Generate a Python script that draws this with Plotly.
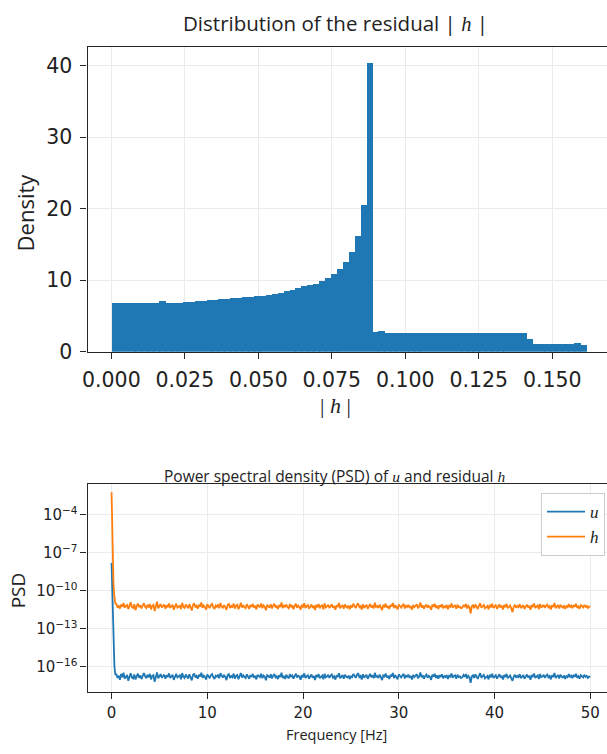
import numpy as np
import plotly.graph_objects as go

# ---------------- Data: histogram of |h| (density) ----------------
hist_bin_count = 80
hist_max = 0.1613
hist_density = [
    6.88, 6.90, 6.89, 6.87, 6.90, 6.88, 6.91, 6.89,
    7.10, 6.85, 6.84, 6.86, 7.00, 7.05, 7.12, 7.20, 7.27, 7.33, 7.40, 7.47,
    7.53, 7.60, 7.67, 7.73, 7.80, 7.93, 8.07, 8.20, 8.35, 8.50, 8.70, 8.95,
    9.20, 9.40, 9.60, 9.90, 10.40, 11.00, 11.70, 12.65, 13.97, 16.20, 20.60, 40.45,
    2.78, 2.92,
    2.70, 2.69, 2.71, 2.70, 2.68, 2.70, 2.71, 2.69, 2.70, 2.70, 2.69, 2.71,
    2.70, 2.68, 2.70, 2.69, 2.71, 2.70, 2.70, 2.69, 2.70, 2.71, 2.69, 2.70,
    1.92,
    1.10, 1.09, 1.11, 1.10, 1.10, 1.09, 1.11,
    1.25, 1.05,
]
hist_xticks = [0.0, 0.025, 0.05, 0.075, 0.1, 0.125, 0.15]
hist_xtick_labels = ["0.000", "0.025", "0.050", "0.075", "0.100", "0.125", "0.150"]
hist_yticks = [0, 10, 20, 30, 40]

# ---------------- Data: PSD (log10 values) ----------------
psd_freq_head = [0.0, 0.1, 0.2, 0.3, 0.4]
psd_freq_body_start = 0.5
psd_freq_body_stop = 50.0
psd_freq_body_step = 0.125

psd_h_log10_head = [-2.20, -6.00, -9.40, -10.50, -11.00]
psd_h_log10_body = [
    -11.02, -11.31, -11.15, -11.40, -11.08, -11.26, -10.95, -11.33, -11.19, -11.12,
    -11.44, -11.17, -10.90, -11.29, -11.36, -11.05, -11.52, -11.21, -11.00, -11.28,
    -11.14, -11.39, -11.23, -10.97, -11.25, -11.35, -11.09, -11.31, -11.04, -11.46,
    -11.18, -11.11, -11.60, -11.24, -10.86, -11.37, -11.16, -11.03, -11.32, -11.22,
    -11.07, -11.41, -11.13, -11.29, -10.99, -11.34, -11.20, -11.10, -11.49, -11.17,
    -11.01, -11.32, -11.26, -11.13, -11.44, -10.94, -11.27, -11.35, -11.08, -11.21,
    -11.38, -11.05, -11.24, -11.55, -11.12, -10.98, -11.30, -11.18, -11.40, -11.09,
    -11.25, -10.92, -11.34, -11.15, -11.28, -11.47, -11.06, -11.22, -11.36, -11.11,
    -11.02, -11.30, -11.42, -11.16, -11.27, -11.07, -11.38, -10.96, -11.24, -11.33,
    -11.13, -11.28, -11.50, -11.10, -11.04, -11.35, -11.19, -11.31, -11.00, -11.40,
    -11.16, -11.09, -11.45, -11.23, -10.93, -11.32, -11.12, -11.29, -11.37, -11.05,
    -11.22, -11.41, -11.11, -11.27, -11.03, -11.34, -11.18, -11.46, -11.08, -11.25,
    -11.30, -10.99, -11.37, -11.14, -11.26, -11.53, -11.10, -11.21, -11.33, -11.06,
    -11.39, -11.15, -11.02, -11.31, -11.20, -11.43, -11.11, -11.28, -10.91, -11.36,
    -11.17, -11.24, -11.08, -11.29, -11.38, -11.04, -11.25, -11.13, -11.44, -11.19,
    -11.01, -11.33, -11.16, -11.27, -11.48, -11.09, -11.31, -10.97, -11.36, -11.20,
    -11.12, -11.40, -11.24, -11.07, -11.34, -11.17, -11.51, -11.10, -11.29, -11.03,
    -11.38, -11.19, -11.14, -11.45, -11.00, -11.30, -11.22, -11.09, -11.35, -11.16,
    -11.05, -11.32, -11.20, -11.49, -11.13, -11.28, -10.95, -11.37, -11.18, -11.11,
    -11.41, -11.07, -11.27, -11.33, -11.15, -11.44, -11.19, -11.30, -11.02, -11.26,
    -11.36, -11.12, -10.98, -11.29, -11.21, -11.47, -11.06, -11.34, -11.17, -11.10,
    -11.42, -11.23, -11.04, -11.31, -11.14, -11.38, -10.94, -11.27, -11.20, -11.35,
    -11.08, -11.30, -11.52, -11.16, -11.25, -11.01, -11.33, -11.19, -11.43, -11.11,
    -11.24, -10.96, -11.36, -11.13, -11.28, -11.45, -11.07, -11.22, -11.32, -11.15,
    -11.03, -11.39, -11.18, -11.26, -11.09, -11.34, -11.21, -11.48, -11.12, -11.29,
    -11.17, -11.05, -11.37, -11.23, -10.92, -11.31, -11.14, -11.40, -11.20, -11.08,
    -11.33, -11.19, -11.27, -11.50, -11.10, -11.25, -11.02, -11.35, -11.16, -11.42,
    -11.13, -11.28, -11.06, -11.38, -11.22, -11.30, -11.11, -11.45, -11.18, -11.26,
    -11.00, -11.34, -11.20, -11.15, -11.41, -11.09, -11.29, -11.24, -11.37, -11.32,
    -11.12, -11.27, -11.04, -11.39, -11.18, -11.31, -11.78, -11.22, -11.14, -11.36,
    -11.07, -11.29, -11.43, -11.16, -10.97, -11.33, -11.21, -11.11, -11.38, -11.25,
    -11.19, -11.46, -11.09, -11.30, -11.02, -11.35, -11.23, -11.14, -11.41, -11.26,
    -11.06, -11.32, -11.18, -11.47, -11.12, -11.28, -11.03, -11.37, -11.20, -11.15,
    -11.40, -11.68, -11.24, -11.10, -11.33, -11.19, -11.29, -11.05, -11.36, -11.22,
    -11.13, -11.42, -11.26, -11.08, -11.31, -11.17, -11.49, -11.11, -11.27, -11.00,
    -11.35, -11.21, -11.15, -11.44, -11.04, -11.29, -11.23, -11.10, -11.34, -11.18,
    -11.08, -11.30, -11.20, -11.46, -11.14, -11.27, -10.96, -11.36, -11.19, -11.12,
    -11.39, -11.09, -11.25, -11.32, -11.16, -11.43, -11.21, -11.28, -11.05, -11.30,
    -11.17, -11.37, -11.11, -11.26, -11.02, -11.34, -11.22, -11.41, -11.13, -11.24,
    -11.31, -11.10, -11.27, -11.19, -11.35, -11.23, -11.26,
]

psd_u_log10_head = [-7.80, -11.50, -14.50, -16.00, -16.60]
psd_u_log10_body = [
    -16.60, -16.88, -16.70, -17.03, -16.56, -16.82, -16.47, -16.94, -16.73, -16.64,
    -17.10, -16.69, -16.51, -16.85, -16.92, -16.60, -17.00, -16.76, -16.54, -16.87,
    -16.68, -16.97, -16.79, -16.49, -16.74, -16.91, -16.63, -16.83, -16.56, -16.99,
    -16.72, -16.66, -17.18, -16.81, -16.44, -16.90, -16.69, -16.58, -16.86, -16.77,
    -16.62, -16.95, -16.67, -16.80, -16.52, -16.88, -16.75, -16.64, -17.03, -16.71,
    -16.55, -16.84, -16.78, -16.67, -16.98, -16.50, -16.79, -16.89, -16.61, -16.73,
    -16.92, -16.59, -16.77, -17.07, -16.65, -16.53, -16.83, -16.72, -16.94, -16.63,
    -16.76, -16.47, -16.87, -16.69, -16.81, -17.00, -16.60, -16.75, -16.90, -16.66,
    -16.57, -16.82, -16.96, -16.70, -16.78, -16.62, -16.91, -16.51, -16.74, -16.86,
    -16.68, -16.79, -17.05, -16.65, -16.58, -16.88, -16.73, -16.83, -16.54, -16.93,
    -16.71, -16.64, -16.98, -16.77, -16.49, -16.85, -16.67, -16.80, -16.89, -16.60,
    -16.75, -16.94, -16.66, -16.79, -16.56, -16.87, -16.72, -16.99, -16.63, -16.76,
    -16.82, -16.54, -16.90, -16.69, -16.78, -17.06, -16.65, -16.73, -16.86, -16.59,
    -16.92, -16.70, -16.57, -16.84, -16.75, -16.97, -16.66, -16.81, -16.46, -16.89,
    -16.72, -16.96, -16.63, -16.80, -16.91, -16.59, -16.77, -16.68, -16.93, -16.74,
    -16.55, -16.85, -16.71, -16.78, -17.02, -16.64, -16.83, -16.52, -16.88, -16.76,
    -16.67, -16.93, -16.79, -16.61, -16.87, -16.73, -17.04, -16.65, -16.82, -16.58,
    -16.90, -16.74, -16.69, -16.98, -16.55, -16.83, -16.77, -16.63, -16.88, -16.71,
    -16.60, -16.86, -16.75, -17.01, -16.68, -16.80, -16.51, -16.91, -16.73, -16.66,
    -16.94, -16.62, -16.78, -16.85, -16.70, -16.97, -16.75, -16.82, -16.57, -16.79,
    -16.87, -16.64, -16.50, -16.81, -16.72, -17.00, -16.59, -16.86, -16.69, -16.63,
    -16.95, -16.76, -16.56, -16.83, -16.67, -16.90, -16.48, -16.79, -16.73, -16.88,
    -16.61, -16.82, -17.05, -16.68, -16.77, -16.54, -16.85, -16.71, -16.96, -16.64,
    -16.76, -16.49, -16.89, -16.66, -16.80, -16.98, -16.60, -16.74, -16.84, -16.68,
    -16.56, -16.92, -16.70, -16.78, -16.62, -16.87, -16.73, -17.01, -16.65, -16.81,
    -16.69, -16.58, -16.90, -16.75, -16.45, -16.83, -16.67, -16.93, -16.72, -16.61,
    -16.86, -16.71, -16.79, -17.03, -16.63, -16.77, -16.55, -16.88, -16.68, -16.95,
    -16.66, -16.80, -16.59, -16.91, -16.74, -16.82, -16.64, -16.97, -16.70, -16.78,
    -16.53, -16.87, -16.72, -16.67, -16.94, -16.62, -16.81, -16.76, -16.89, -16.84,
    -16.65, -16.79, -16.57, -16.92, -16.71, -16.83, -17.26, -16.75, -16.67, -16.88,
    -16.60, -16.81, -16.96, -16.69, -16.50, -16.86, -16.74, -16.64, -16.91, -16.78,
    -16.72, -16.99, -16.62, -16.83, -16.55, -16.88, -16.76, -16.67, -16.94, -16.79,
    -16.59, -16.85, -16.71, -17.00, -16.65, -16.80, -16.56, -16.90, -16.73, -16.68,
    -16.93, -17.10, -16.77, -16.63, -16.86, -16.72, -16.82, -16.58, -16.89, -16.75,
    -16.66, -16.95, -16.79, -16.61, -16.84, -16.70, -17.02, -16.64, -16.80, -16.53,
    -16.88, -16.74, -16.68, -16.97, -16.57, -16.82, -16.76, -16.63, -16.87, -16.71,
    -16.61, -16.83, -16.73, -16.99, -16.67, -16.80, -16.49, -16.89, -16.72, -16.65,
    -16.92, -16.62, -16.78, -16.85, -16.69, -16.96, -16.74, -16.81, -16.58, -16.83,
    -16.70, -16.90, -16.64, -16.79, -16.55, -16.87, -16.75, -16.94, -16.66, -16.77,
    -16.84, -16.63, -16.80, -16.72, -16.88, -16.76, -16.79,
]
psd_yticks_exp = [-16, -13, -10, -7, -4]
psd_xticks = [0, 10, 20, 30, 40, 50]

# ---------------- Build ----------------
W, H = 607, 754
BLUE = "#1f77b4"
ORANGE = "#ff7f0e"
GRID = "#ebebeb"
SPINE = "#262626"
SANS = "Open Sans"
TICKF = "DejaVu Sans"
SERIF = "Liberation Serif"

edges = np.linspace(0.0, hist_max, hist_bin_count + 1)
bin_w = edges[1] - edges[0]

psd_freq = psd_freq_head + list(np.arange(psd_freq_body_start,
                                          psd_freq_body_stop + 1e-9,
                                          psd_freq_body_step))
psd_h = [10.0 ** v for v in psd_h_log10_head + psd_h_log10_body]
psd_u = [10.0 ** v for v in psd_u_log10_head + psd_u_log10_body]


def px(x):
    return x / W


def py(y):
    return 1 - y / H


fig = go.Figure()
# bars slightly widened so neighbours overlap (no anti-alias seams)
fig.add_trace(go.Bar(
    x=edges[:-1], y=hist_density, width=bin_w * 1.1, offset=0,
    marker=dict(color=BLUE, line=dict(width=0)),
    showlegend=False, xaxis="x", yaxis="y",
))
fig.add_trace(go.Scatter(
    x=psd_freq, y=psd_u, mode="lines", name="<i>u</i>",
    line=dict(color=BLUE, width=1.8), xaxis="x2", yaxis="y2",
))
fig.add_trace(go.Scatter(
    x=psd_freq, y=psd_h, mode="lines", name="<i>h</i>",
    line=dict(color=ORANGE, width=1.8), xaxis="x2", yaxis="y2",
))

x_dom = [px(83.3), 1.0]
axis_common = dict(showline=True, linecolor=SPINE, linewidth=1.3,
                   ticks="outside", ticklen=6, tickwidth=1.2, tickcolor=SPINE,
                   showgrid=True, gridcolor=GRID, gridwidth=1, zeroline=False)

fig.update_layout(
    width=W, height=H, autosize=False,
    margin=dict(l=0, r=0, t=0, b=0),
    paper_bgcolor="white", plot_bgcolor="white",
    bargap=0,
    xaxis=dict(domain=x_dom, anchor="y", range=[-0.00807, 0.1686],
               tickvals=hist_xticks, ticktext=hist_xtick_labels,
               tickfont=dict(family=TICKF, size=20.5, color="#222"),
               ticklabelstandoff=3,
               mirror=True, **axis_common),
    yaxis=dict(domain=[py(357.5), py(47.3)], anchor="x", range=[0, 42.65],
               tickvals=hist_yticks,
               tickfont=dict(family=TICKF, size=20.5, color="#222"),
               ticklabelstandoff=4, **axis_common),
    xaxis2=dict(domain=x_dom, anchor="y2", range=[-2.5, 51.74],
                tickvals=psd_xticks,
                tickfont=dict(family=TICKF, size=15, color="#222"),
                ticklabelstandoff=1,
                mirror=True, **axis_common),
    yaxis2=dict(domain=[py(703.3), py(491.7)], anchor="x2", type="log",
                range=[-18.0, -1.54],
                tickvals=[10.0 ** e for e in psd_yticks_exp],
                ticktext=["10<sup>\u2212%d</sup>" % (-e) for e in psd_yticks_exp],
                tickfont=dict(family=TICKF, size=15, color="#222"),
                **axis_common),
    legend=dict(x=px(605), y=py(501), xanchor="right", yanchor="top",
                bgcolor="rgba(255,255,255,0.9)", bordercolor="#cccccc",
                borderwidth=1, font=dict(family=SERIF, size=17, color="#222"),
                tracegroupgap=0, itemwidth=38),
)

hspan = '<span style="font-family:%s">' % SERIF
annotations = [
    dict(text="Distribution of the residual | " + hspan + "<i>h</i></span> |",
         x=px(333), y=py(23), font=dict(family=SANS, size=20.5, color="#222")),
    dict(text=hspan + "| <i>h</i> |</span>",
         x=px(333), y=py(412), font=dict(family=SANS, size=22, color="#222")),
    dict(text="Density", x=px(20), y=py(216), textangle=-90,
         font=dict(family=SANS, size=22, color="#222")),
    dict(text="Power spectral density (PSD) of " + hspan + "<i>u</i></span> and residual "
         + hspan + "<i>h</i></span>",
         x=px(333), y=py(484), font=dict(family=SANS, size=15.5, color="#222")),
    dict(text="PSD", x=px(14), y=py(600), textangle=-90,
         font=dict(family=SANS, size=19, color="#222")),
    dict(text="Frequency [Hz]", x=px(334), y=py(746),
         font=dict(family=SANS, size=14.5, color="#222")),
]
for a in annotations:
    a.update(xref="paper", yref="paper", showarrow=False,
             xanchor="center", yanchor="middle")
fig.update_layout(annotations=annotations)

fig.write_html("out.html")
